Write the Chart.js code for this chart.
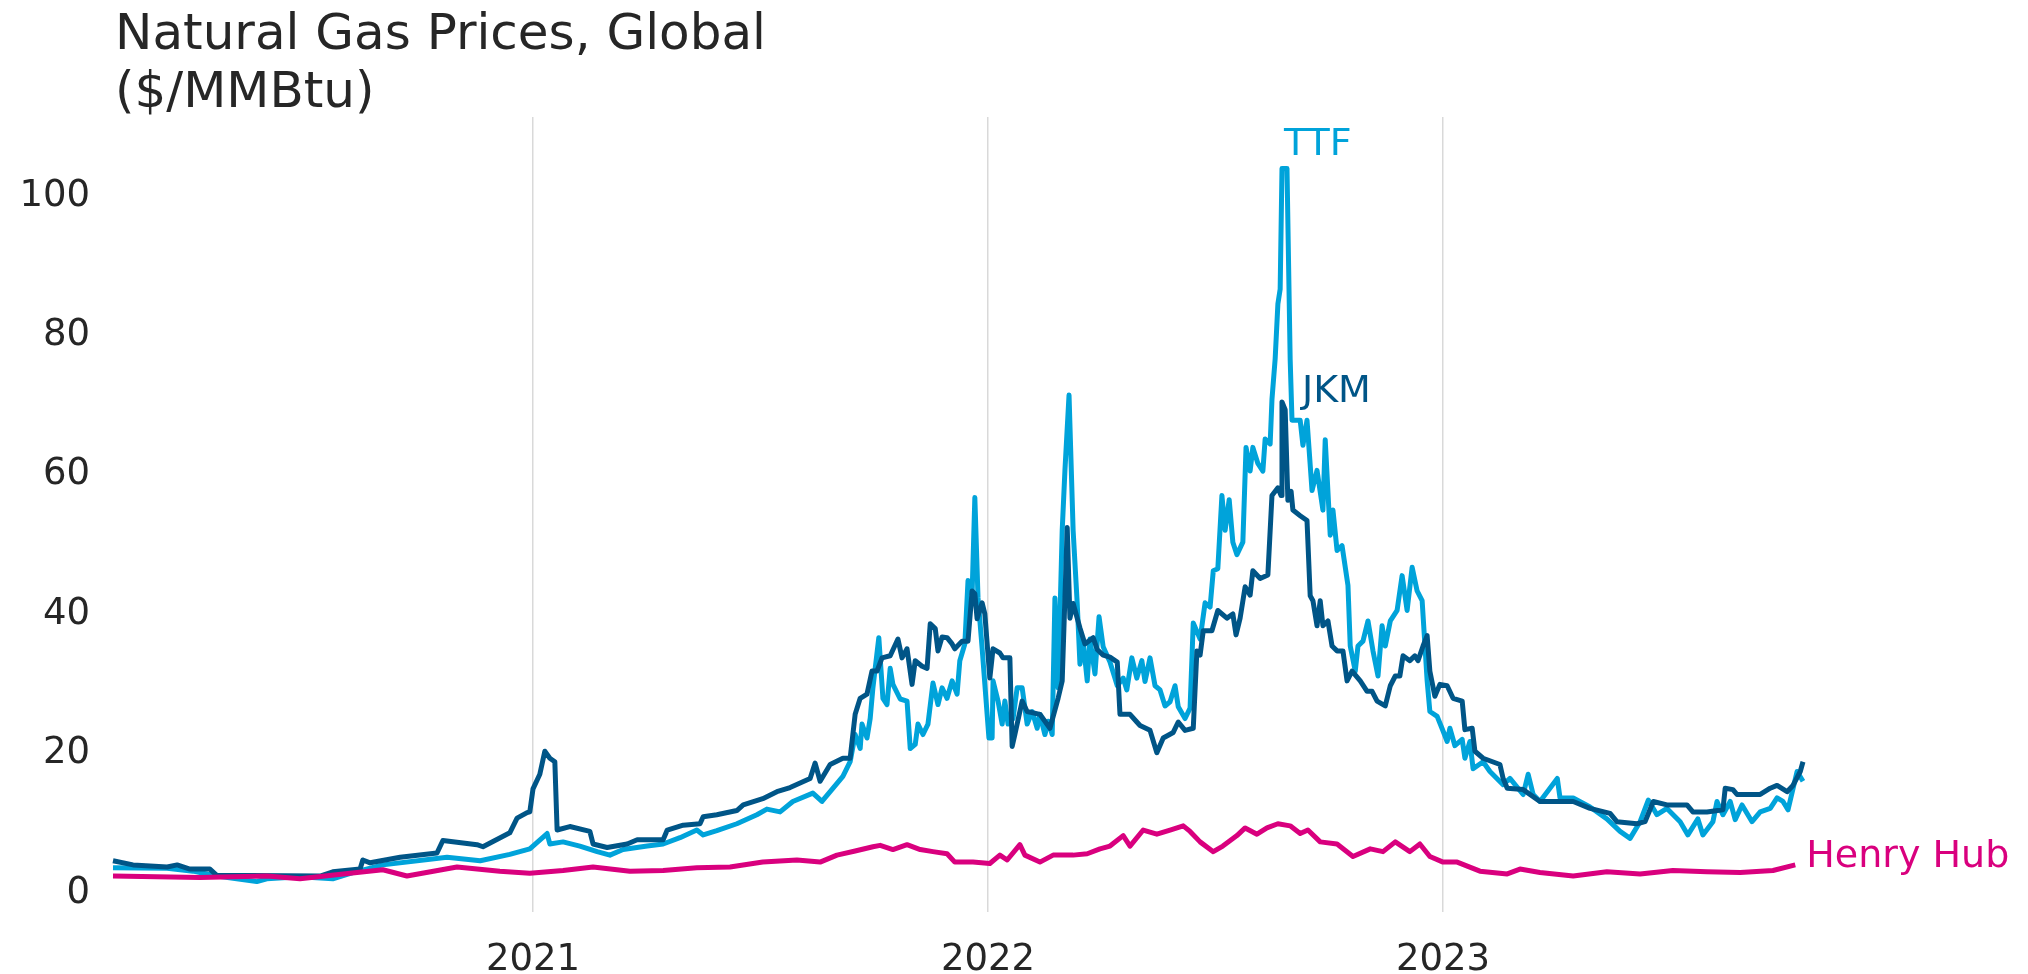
<!DOCTYPE html>
<html>
<head>
<meta charset="utf-8">
<script src="https://cdn.jsdelivr.net/npm/chart.js@4.4.1/dist/chart.umd.min.js"></script>
<style>
  html, body { margin: 0; padding: 0; background: #ffffff; }
  #wrap { width: 2028px; height: 974px; }
</style>
</head>
<body>
<div id="wrap"><canvas id="c" width="2028" height="974"></canvas></div>
<script>
// ---- Data (dates as decimal years) ----
const titleLines = ["Natural Gas Prices, Global", "($/MMBtu)"];
const xTicks = [2021, 2022, 2023];
const yTicks = [0, 20, 40, 60, 80, 100];

const ttfDates = [2020.077,2020.196,2020.253,2020.305,2020.393,2020.415,2020.488,2020.560,2020.604,2020.670,2020.811,2020.884,2020.949,2020.993,2021.031,2021.037,2021.066,2021.103,2021.141,2021.169,2021.198,2021.251,2021.286,2021.323,2021.360,2021.374,2021.404,2021.448,2021.492,2021.514,2021.543,2021.571,2021.615,2021.635,2021.653,2021.681,2021.697,2021.708,2021.719,2021.723,2021.734,2021.741,2021.747,2021.760,2021.769,2021.778,2021.785,2021.791,2021.807,2021.822,2021.829,2021.840,2021.846,2021.857,2021.868,2021.879,2021.890,2021.899,2021.910,2021.921,2021.932,2021.938,2021.949,2021.956,2021.965,2021.971,2021.978,2021.987,2021.998,2022.002,2022.009,2022.011,2022.022,2022.031,2022.037,2022.044,2022.055,2022.064,2022.075,2022.086,2022.097,2022.108,2022.114,2022.125,2022.132,2022.141,2022.147,2022.154,2022.163,2022.169,2022.178,2022.187,2022.196,2022.202,2022.209,2022.218,2022.224,2022.235,2022.244,2022.253,2022.268,2022.284,2022.297,2022.305,2022.316,2022.327,2022.338,2022.345,2022.356,2022.367,2022.378,2022.389,2022.400,2022.411,2022.418,2022.433,2022.444,2022.451,2022.466,2022.477,2022.488,2022.495,2022.505,2022.514,2022.521,2022.530,2022.538,2022.547,2022.560,2022.567,2022.576,2022.582,2022.593,2022.604,2022.609,2022.620,2022.624,2022.631,2022.637,2022.642,2022.646,2022.657,2022.664,2022.668,2022.686,2022.692,2022.701,2022.712,2022.723,2022.736,2022.741,2022.752,2022.758,2022.767,2022.778,2022.791,2022.796,2022.807,2022.813,2022.824,2022.835,2022.846,2022.857,2022.866,2022.873,2022.884,2022.899,2022.910,2022.921,2022.932,2022.943,2022.954,2022.965,2022.971,2022.987,2023.000,2023.009,2023.015,2023.026,2023.042,2023.048,2023.059,2023.066,2023.088,2023.103,2023.132,2023.147,2023.176,2023.187,2023.198,2023.213,2023.251,2023.257,2023.286,2023.323,2023.360,2023.389,2023.411,2023.433,2023.451,2023.470,2023.492,2023.521,2023.538,2023.560,2023.571,2023.593,2023.602,2023.615,2023.631,2023.642,2023.657,2023.679,2023.697,2023.719,2023.734,2023.747,2023.758,2023.778,2023.791];
const ttfValues = [3.2,3.1,2.7,2.0,1.2,1.6,1.9,1.6,2.5,3.6,4.7,4.2,5.1,5.9,8.1,6.6,6.9,6.3,5.5,5.0,5.8,6.3,6.6,7.5,8.6,7.9,8.5,9.5,10.8,11.6,11.2,12.7,13.9,12.7,14.1,16.3,18.4,22.3,20.3,23.8,21.8,24.6,29.0,36.2,27.5,26.6,31.8,29.5,27.4,27.1,20.3,20.9,23.8,22.3,23.8,29.7,26.6,29.0,27.5,30.0,28.1,32.9,35.3,44.4,42.5,56.3,41.9,34.7,25.2,21.8,21.8,30.0,27.1,23.8,27.1,23.8,24.6,29.0,29.0,23.8,25.6,23.2,25.2,22.3,24.2,22.3,41.9,29.0,51.6,60.2,71.0,51.6,41.1,32.4,35.7,30.0,36.0,31.0,39.2,34.9,32.7,29.3,30.4,28.7,33.3,30.4,32.9,29.9,33.3,29.3,28.7,26.4,27.0,29.3,26.3,24.6,26.1,38.3,36.0,41.2,40.6,45.8,46.1,56.6,51.6,56.0,49.9,48.1,49.9,63.5,60.1,63.5,61.2,60.1,64.7,64.0,70.4,76.2,84.1,86.2,103.5,103.5,76.1,67.4,67.4,63.8,67.4,57.3,60.2,54.5,64.6,50.9,54.5,48.7,49.4,43.7,35.0,31.4,35.0,35.7,38.6,34.3,30.7,37.9,35.0,38.6,40.1,45.1,40.1,46.3,42.9,41.5,30.0,25.6,24.9,22.8,21.3,23.2,20.7,21.6,18.9,21.3,17.4,18.4,17.0,15.1,16.0,13.7,16.6,13.7,12.7,16.0,13.2,13.2,11.9,10.2,8.4,7.4,9.8,12.9,10.8,11.7,9.8,7.9,10.2,7.9,9.8,12.7,10.8,12.7,10.1,12.2,9.8,11.2,11.7,13.2,12.7,11.5,17.0,15.6];

const jkmDates = [2020.077,2020.121,2020.196,2020.218,2020.246,2020.290,2020.305,2020.532,2020.560,2020.620,2020.626,2020.642,2020.708,2020.789,2020.802,2020.877,2020.890,2020.949,2020.965,2020.987,2020.993,2021.000,2021.015,2021.026,2021.037,2021.048,2021.053,2021.081,2021.125,2021.132,2021.163,2021.207,2021.229,2021.286,2021.295,2021.330,2021.367,2021.374,2021.404,2021.448,2021.462,2021.505,2021.536,2021.565,2021.609,2021.620,2021.631,2021.653,2021.681,2021.697,2021.708,2021.719,2021.734,2021.745,2021.756,2021.767,2021.785,2021.802,2021.811,2021.822,2021.833,2021.840,2021.855,2021.866,2021.873,2021.884,2021.890,2021.899,2021.910,2021.921,2021.927,2021.943,2021.956,2021.965,2021.971,2021.976,2021.987,2021.993,2022.004,2022.011,2022.026,2022.033,2022.048,2022.053,2022.059,2022.075,2022.086,2022.114,2022.136,2022.154,2022.163,2022.174,2022.180,2022.187,2022.202,2022.213,2022.231,2022.240,2022.253,2022.268,2022.284,2022.290,2022.312,2022.327,2022.334,2022.356,2022.371,2022.385,2022.407,2022.418,2022.433,2022.451,2022.459,2022.466,2022.473,2022.492,2022.505,2022.525,2022.538,2022.545,2022.554,2022.565,2022.576,2022.582,2022.598,2022.615,2022.624,2022.637,2022.644,2022.646,2022.653,2022.659,2022.666,2022.670,2022.686,2022.701,2022.708,2022.714,2022.723,2022.730,2022.736,2022.747,2022.756,2022.767,2022.780,2022.789,2022.800,2022.818,2022.833,2022.844,2022.855,2022.873,2022.884,2022.895,2022.905,2022.912,2022.927,2022.938,2022.945,2022.956,2022.965,2022.971,2022.982,2022.993,2023.009,2023.022,2023.042,2023.048,2023.064,2023.070,2023.088,2023.125,2023.132,2023.141,2023.176,2023.213,2023.286,2023.323,2023.367,2023.382,2023.426,2023.444,2023.462,2023.492,2023.536,2023.549,2023.580,2023.615,2023.620,2023.637,2023.646,2023.697,2023.719,2023.734,2023.756,2023.769,2023.785,2023.791];
const jkmValues = [4.2,3.6,3.3,3.6,3.0,3.0,2.1,2.0,2.6,3.0,4.3,3.9,4.7,5.3,7.1,6.5,6.2,8.2,10.3,11.1,11.2,14.5,16.6,19.9,18.9,18.4,8.6,9.1,8.4,6.6,6.1,6.6,7.2,7.2,8.6,9.3,9.5,10.5,10.8,11.4,12.2,13.1,14.1,14.7,16.0,18.2,15.6,18.0,18.9,18.9,25.2,27.5,28.1,31.4,31.4,33.3,33.6,36.0,33.3,34.6,29.5,32.9,32.1,31.8,38.2,37.5,34.3,36.3,36.2,35.3,34.6,35.7,35.7,42.9,42.5,38.9,41.2,39.6,30.4,34.6,34.0,33.3,33.3,20.6,22.3,27.1,25.6,25.2,23.2,27.5,30.0,52.0,39.0,41.1,37.6,35.3,36.2,34.5,33.7,33.4,32.7,25.2,25.2,24.1,23.6,22.9,19.7,21.8,22.6,24.1,22.9,23.2,34.3,33.7,37.2,37.2,40.1,39.0,39.6,36.6,39.0,43.5,42.3,45.8,44.7,45.2,56.6,57.7,56.6,70.0,68.9,55.9,57.2,54.5,53.7,53.0,42.2,41.5,37.9,41.5,37.9,38.6,35.0,34.3,34.3,30.0,31.4,30.0,28.5,28.5,27.1,26.4,29.3,30.7,30.7,33.6,32.9,33.6,32.9,35.0,36.5,31.4,27.8,29.5,29.3,27.5,27.1,23.0,23.2,19.9,18.9,18.0,16.0,14.6,14.4,12.7,12.7,11.7,11.0,9.8,9.5,9.8,12.7,12.2,12.2,11.2,11.2,11.5,14.6,14.4,13.7,13.7,14.6,15.0,14.1,15.0,17.0,18.4];

const hhDates = [2020.077,2020.268,2020.415,2020.488,2020.598,2020.670,2020.723,2020.833,2020.927,2020.993,2021.066,2021.132,2021.213,2021.286,2021.360,2021.433,2021.505,2021.580,2021.631,2021.668,2021.708,2021.747,2021.763,2021.791,2021.822,2021.851,2021.879,2021.910,2021.927,2021.967,2022.004,2022.026,2022.042,2022.070,2022.081,2022.114,2022.143,2022.187,2022.218,2022.246,2022.268,2022.297,2022.312,2022.341,2022.371,2022.400,2022.429,2022.444,2022.466,2022.495,2022.516,2022.547,2022.565,2022.591,2022.613,2022.637,2022.664,2022.686,2022.703,2022.730,2022.767,2022.802,2022.840,2022.868,2022.895,2022.927,2022.949,2022.971,2023.000,2023.031,2023.081,2023.141,2023.169,2023.213,2023.286,2023.360,2023.433,2023.505,2023.580,2023.653,2023.725,2023.774];
const hhValues = [2.0,1.8,2.0,1.6,2.4,2.9,2.0,3.3,2.7,2.4,2.8,3.3,2.7,2.8,3.2,3.3,4.0,4.3,4.0,5.0,5.6,6.2,6.4,5.8,6.5,5.8,5.5,5.2,4.0,4.0,3.8,5.0,4.3,6.5,5.0,4.0,5.0,5.0,5.2,5.9,6.3,7.8,6.3,8.6,8.0,8.6,9.2,8.4,6.9,5.5,6.3,7.8,8.9,8.0,8.9,9.5,9.2,8.1,8.6,6.9,6.6,4.8,5.9,5.5,6.9,5.5,6.6,4.8,4.0,4.0,2.7,2.3,3.0,2.5,2.0,2.6,2.3,2.8,2.6,2.5,2.8,3.6];

const seriesNames = ["TTF", "JKM", "Henry Hub"];
const seriesColors = ["#00a3da", "#005587", "#d9007e"];

// ---- Build ----
const toXY = (dates, vals) => dates.map((d, i) => ({ x: d, y: vals[i] }));
const TEXT = "#262626";
const FONT = "'DejaVu Sans', sans-serif";

const titlePlugin = {
  id: 'titleText',
  afterDraw(chart) {
    const ctx = chart.ctx;
    ctx.save();
    ctx.fillStyle = TEXT;
    ctx.font = "50px " + FONT;
    ctx.textAlign = "left";
    ctx.textBaseline = "alphabetic";
    ctx.fillText(titleLines[0], 115, 49);
    ctx.fillText(titleLines[1], 115, 107);
    ctx.restore();
  }
};

const labelPlugin = {
  id: 'seriesLabels',
  afterDatasetsDraw(chart) {
    const ctx = chart.ctx;
    ctx.save();
    ctx.font = "38px " + FONT;
    ctx.textAlign = "left";
    ctx.textBaseline = "alphabetic";
    chart.data.datasets.forEach((ds, i) => {
      const meta = chart.getDatasetMeta(i);
      const pts = meta.data;
      ctx.fillStyle = ds.borderColor;
      if (ds.label === "Henry Hub") {
        const p = pts[pts.length - 1];
        ctx.fillText(ds.label, p.x + 11, p.y + 2);
      } else {
        let mi = 0;
        ds.data.forEach((d, k) => { if (d.y > ds.data[mi].y) mi = k; });
        const p = pts[mi];
        if (ds.label === "TTF") ctx.fillText(ds.label, p.x + 2, p.y - 14);
        else ctx.fillText(ds.label, p.x + 20, p.y);
      }
    });
    ctx.restore();
  }
};

new Chart(document.getElementById('c'), {
  type: 'line',
  data: {
    datasets: [
      { label: seriesNames[2], data: toXY(hhDates, hhValues), borderColor: seriesColors[2], order: 0 },
      { label: seriesNames[1], data: toXY(jkmDates, jkmValues), borderColor: seriesColors[1], order: 1 },
      { label: seriesNames[0], data: toXY(ttfDates, ttfValues), borderColor: seriesColors[0], order: 2 }
    ].map(d => Object.assign(d, {
      borderWidth: 5, pointRadius: 0, tension: 0, fill: false,
      borderJoinStyle: 'round', borderCapStyle: 'butt', clip: false
    }))
  },
  options: {
    responsive: false,
    animation: false,
    devicePixelRatio: 1,
    layout: { padding: { top: 117, right: 225, left: 0, bottom: 0 } },
    plugins: { legend: { display: false }, tooltip: { enabled: false }, title: { display: false } },
    scales: {
      x: {
        type: 'linear',
        min: 2020.077, max: 2023.791,
        afterBuildTicks: (s) => { s.ticks = xTicks.map(v => ({ value: v })); },
        afterFit: (s) => { s.height = 62; },
        grid: { display: true, drawTicks: false, color: '#d9d9d9', lineWidth: 1.5 },
        border: { display: false },
        ticks: { color: TEXT, font: { family: FONT, size: 37 }, padding: 26, maxRotation: 0,
                 callback: (v) => String(v) }
      },
      y: {
        type: 'linear',
        min: -3.16, max: 110.9,
        afterBuildTicks: (s) => { s.ticks = yTicks.map(v => ({ value: v })); },
        afterFit: (s) => { s.width = 113; },
        grid: { display: false, drawTicks: false },
        border: { display: false },
        ticks: { color: TEXT, font: { family: FONT, size: 37 }, padding: 23, labelOffset: 3,
                 callback: (v) => String(v) }
      }
    }
  },
  plugins: [titlePlugin, labelPlugin]
});
</script>
</body>
</html>
